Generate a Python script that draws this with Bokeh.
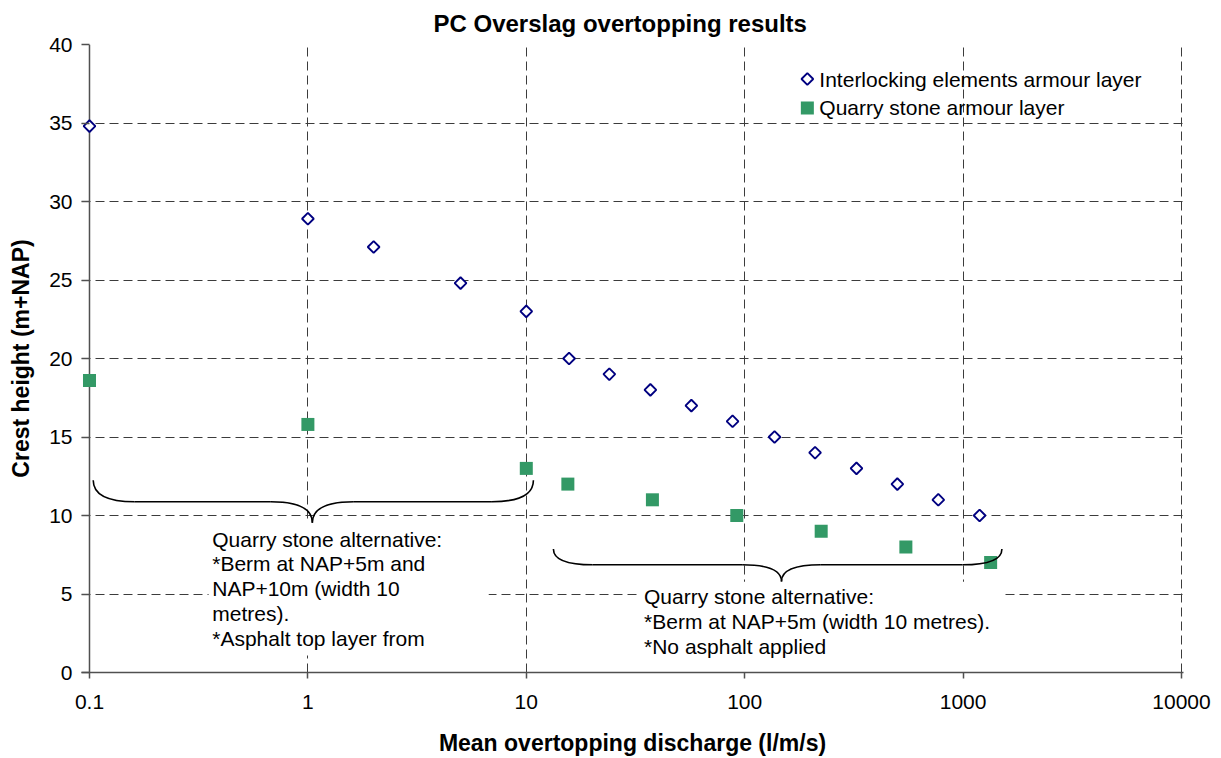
import numpy as np
from bokeh.plotting import figure
from bokeh.models import FixedTicker, Range1d
from bokeh.embed import file_html
from bokeh.resources import INLINE
from bokeh.core.properties import value

# ---------------- data ----------------
title_text = "PC Overslag overtopping results"
x_label = "Mean overtopping discharge (l/m/s)"
y_label = "Crest height (m+NAP)"

interlock_name = "Interlocking elements armour layer"
interlock_q = [0.1, 1, 2, 5, 10, 15.7, 24, 37, 57, 88, 137, 210, 325, 500, 770, 1190]
interlock_h = [34.8, 28.9, 27.1, 24.8, 23.0, 20, 19, 18, 17, 16, 15, 14, 13, 12, 11, 10]

quarry_name = "Quarry stone armour layer"
quarry_q = [0.1, 1, 10, 15.5, 37.8, 92, 224, 547, 1337]
quarry_h = [18.6, 15.8, 13.0, 12, 11, 10, 9, 8, 7]

x_ticks = [0.1, 1, 10, 100, 1000, 10000]
x_tick_labels = ["0.1", "1", "10", "100", "1000", "10000"]
y_ticks = [0, 5, 10, 15, 20, 25, 30, 35, 40]

note1_lines = ["Quarry stone alternative:", "*Berm at NAP+5m and",
               "NAP+10m (width 10", "metres).", "*Asphalt top layer from"]
note2_lines = ["Quarry stone alternative:", "*Berm at NAP+5m (width 10 metres).",
               "*No asphalt applied"]

# ---------------- styling ----------------
FONT = "Liberation Sans"
NAVY = "#000080"
GREEN = "#339966"
GRID = "#3c3c3c"
AXIS = "#505050"

# a little room left of 0.1 (markers not cut) and right of 10000 (edge grid line shows)
x_start = 10 ** -1.0366
x_end = 10 ** 4.0092
x_min, x_max = x_ticks[0], x_ticks[-1]
y_min, y_max = y_ticks[0], y_ticks[-1]

p = figure(width=1221, height=758, x_axis_type="log",
           x_range=Range1d(x_start, x_end), y_range=Range1d(y_min, y_max),
           output_backend="svg", toolbar_location=None,
           min_border_left=81, min_border_right=38,
           min_border_top=43, min_border_bottom=85)
p.outline_line_color = None
p.background_fill_color = "white"
p.border_fill_color = "white"

p.title.text = title_text
p.title.align = "left"
p.title.offset = 352
p.title.text_font = FONT
p.title.text_font_size = "24px"
p.title.text_font_style = "bold"
p.title.text_color = "black"
p.title.standoff = 15

xa = p.xaxis[0]
ya = p.yaxis[0]
xa.ticker = FixedTicker(ticks=x_ticks)
xa.major_label_overrides = {t: l for t, l in zip(x_ticks, x_tick_labels)}
ya.ticker = FixedTicker(ticks=y_ticks)
xa.axis_label = x_label
ya.axis_label = y_label
for ax in (xa, ya):
    ax.axis_line_color = AXIS
    ax.axis_line_width = 1.5
    ax.major_tick_line_color = AXIS
    ax.major_tick_line_width = 1.5
    ax.major_tick_out = 6
    ax.major_tick_in = 0
    ax.minor_tick_line_color = None
    ax.major_label_text_font = FONT
    ax.major_label_text_font_size = "21px"
    ax.major_label_text_color = "black"
    ax.axis_label_text_font = FONT
    ax.axis_label_text_font_size = "23px"
    ax.axis_label_text_font_style = "bold"
    ax.axis_label_text_color = "black"
# y axis sits at the frame edge, just left of 0.1: ticks reach in to the 0.1 line
ya.axis_line_color = None
ya.major_tick_out = 0
ya.major_tick_in = 8
xa.major_label_standoff = 16
ya.major_label_standoff = 9
xa.axis_label_standoff = 18
ya.axis_label_standoff = 12

p.xgrid.ticker = FixedTicker(ticks=x_ticks)
p.ygrid.ticker = FixedTicker(ticks=y_ticks)
for g in (p.xgrid, p.ygrid):
    g.grid_line_color = GRID
    g.grid_line_dash = "9 5"
    g.grid_line_width = 1
    g.minor_grid_line_color = None

# white strip left of the 0.1 line (hides grid stubs)
p.quad(left=[x_start], right=[x_min], bottom=[y_min], top=[y_max],
       fill_color="white", line_color=None)
# vertical axis line at 0.1
p.segment(x0=[x_min], y0=[y_min], x1=[x_min], y1=[y_max],
          line_color=AXIS, line_width=1.5)

# ---------------- annotation text boxes (white backgrounds) ----------------
box_left = [0.351, 32.4]
box_right = [6.73, 1506]
box_top = [9.52, 5.78]
box_bottom = [1.08, 0]
p.quad(left=box_left, right=box_right, top=box_top, bottom=box_bottom,
       fill_color="white", line_color=None)

# ---------------- data markers ----------------
p.scatter(interlock_q, interlock_h, marker="square", angle=np.pi / 4,
          size=8.3, fill_color="white", line_color=NAVY, line_width=1.9)
p.scatter(quarry_q, quarry_h, marker="square", size=13,
          fill_color=GREEN, line_color=None)

# ---------------- braces ----------------
def brace(xl, xt, xr, y_end, y_mid, y_tip, du):
    ul, ut, ur = np.log10([xl, xt, xr])
    a = 10 ** (ul + du)
    b = 10 ** (ut - du)
    c = 10 ** (ut + du)
    d = 10 ** (ur - du)
    p.quadratic(x0=[xl, b, xt, d], y0=[y_end, y_mid, y_tip, y_mid],
                x1=[a, xt, c, xr], y1=[y_mid, y_tip, y_mid, y_end],
                cx=[xl, xt, xt, xr], cy=[y_mid, y_mid, y_mid, y_mid],
                line_color="black", line_width=1.6)
    p.segment(x0=[a, c], y0=[y_mid, y_mid], x1=[b, d], y1=[y_mid, y_mid],
              line_color="black", line_width=1.6)

brace(0.104, 1.048, 10.78, 12.25, 10.88, 9.54, 0.19)
brace(13.31, 147.4, 1506, 7.87, 6.86, 5.80, 0.18)

# ---------------- note texts ----------------
pitch = 1.587
def note(lines, x, y0):
    ys = [y0 - i * pitch for i in range(len(lines))]
    p.text(x=[x] * len(lines), y=ys, text=lines, text_font=value(FONT),
           text_font_size=value("21px"), text_color="black",
           text_align="left", text_baseline="alphabetic")

note(note1_lines, 0.3648, 8.50)
note(note2_lines, 34.6, 4.83)

# ---------------- legend (hand-built so the diamond keeps its shape) ----------------
leg_x = 193.6
leg_y = [37.80, 35.96]
p.scatter([leg_x], [leg_y[0]], marker="square", angle=np.pi / 4,
          size=8.3, fill_color="white", line_color=NAVY, line_width=1.9)
p.scatter([leg_x], [leg_y[1]], marker="square", size=13,
          fill_color=GREEN, line_color=None)
p.text(x=[leg_x, leg_x], y=leg_y, text=[interlock_name, quarry_name],
       x_offset=12, text_font=value(FONT), text_font_size=value("21px"),
       text_color="black", text_align="left", text_baseline="middle")

open("out.html", "w").write(file_html(p, INLINE))
